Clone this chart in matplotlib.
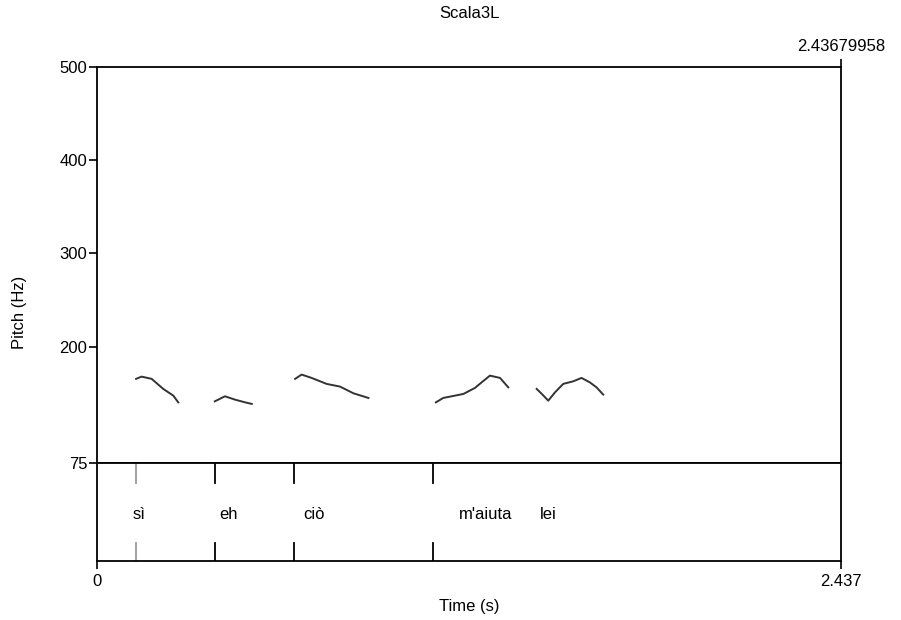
import matplotlib.pyplot as plt
import matplotlib

matplotlib.rcParams["font.family"] = ["Liberation Sans Narrow", "Liberation Sans", "DejaVu Sans"]
matplotlib.rcParams.update({"font.size": 12})

# pitch contour pieces (time s, pitch Hz)
seg_t = [
    [0.128, 0.146, 0.179, 0.217, 0.250, 0.266],
    [0.386, 0.419, 0.452, 0.485, 0.507],
    [0.649, 0.670, 0.703, 0.752, 0.796, 0.840, 0.889],
    [1.110, 1.134, 1.200, 1.238, 1.260, 1.287, 1.320, 1.347],
    [1.440, 1.457, 1.478, 1.500, 1.527, 1.560, 1.587, 1.614, 1.636, 1.658],
]
seg_hz = [
    [165.3, 167.7, 165.3, 154.5, 147.3, 140.1],
    [141.2, 146.6, 143.0, 140.1, 138.4],
    [165.3, 169.9, 166.3, 159.9, 157.0, 149.8, 144.8],
    [140.1, 144.8, 149.1, 155.6, 161.6, 168.8, 166.3, 156.2],
    [154.5, 149.1, 141.9, 150.8, 159.9, 162.7, 166.3, 161.6, 156.2, 148.4],
]

# text tier
boundaries = [0.128, 0.386, 0.645, 1.100]
boundary_colors = ["#999999", "black", "black", "black"]
words = ["sì", "eh", "ciò", "m'aiuta", "lei"]
word_t = [0.138, 0.432, 0.711, 1.274, 1.477]

t_max = 2.43679958
y_ticks = [75, 200, 300, 400, 500]


def main():
    W, H = 901, 620
    fig = plt.figure(figsize=(W / 100, H / 100), dpi=100)
    left, right = 97 / W, 841 / W
    ax = fig.add_axes([left, 1 - 463 / H, right - left, (463 - 67) / H])
    tier = fig.add_axes([left, 1 - 561 / H, right - left, (561 - 463) / H])

    for t, hz in zip(seg_t, seg_hz):
        ax.plot(t, hz, color="#333333", lw=1.4)
    ax.set_xlim(0, t_max)
    ax.set_ylim(75, 500)
    ax.set_yticks(y_ticks)
    ax.set_yticklabels([str(v) for v in y_ticks])
    ax.set_xticks([])
    ax.tick_params(axis="y", direction="out", length=6, width=1.2, pad=1)
    for s in ax.spines.values():
        s.set_linewidth(1.3)

    tier.set_xlim(0, t_max)
    tier.set_ylim(0, 1)
    tier.set_yticks([])
    tier.set_xticks([0, t_max])
    tier.set_xticklabels(["0", "2.437"])
    tier.tick_params(axis="x", direction="out", length=6, width=1.2, pad=3)
    for s in tier.spines.values():
        s.set_linewidth(1.3)
    for b, c in zip(boundaries, boundary_colors):
        tier.plot([b, b], [1, 0.8], color=c, lw=1.3)
        tier.plot([b, b], [0.18, 0], color=c, lw=1.3)
    for w, t in zip(words, word_t):
        tier.text(t, 0.47, w, ha="center", va="center")

    # top-right time marker
    top = ax.secondary_xaxis("top")
    top.set_xticks([t_max])
    top.set_xticklabels(["2.43679958"])
    top.tick_params(direction="out", length=6, width=1.2, pad=3)
    top.spines["top"].set_visible(False)

    fig.text((97 + 841) / 2 / W, 1 - 14 / H, "Scala3L", ha="center", va="center")
    fig.text(20 / W, 1 - 312 / H, "Pitch (Hz)", rotation=90, ha="center", va="center")
    fig.text((97 + 841) / 2 / W, 1 - 607 / H, "Time (s)", ha="center", va="center")
    return fig


if __name__ == "__main__":
    fig = main()
    fig.savefig("out.png", dpi=100)
